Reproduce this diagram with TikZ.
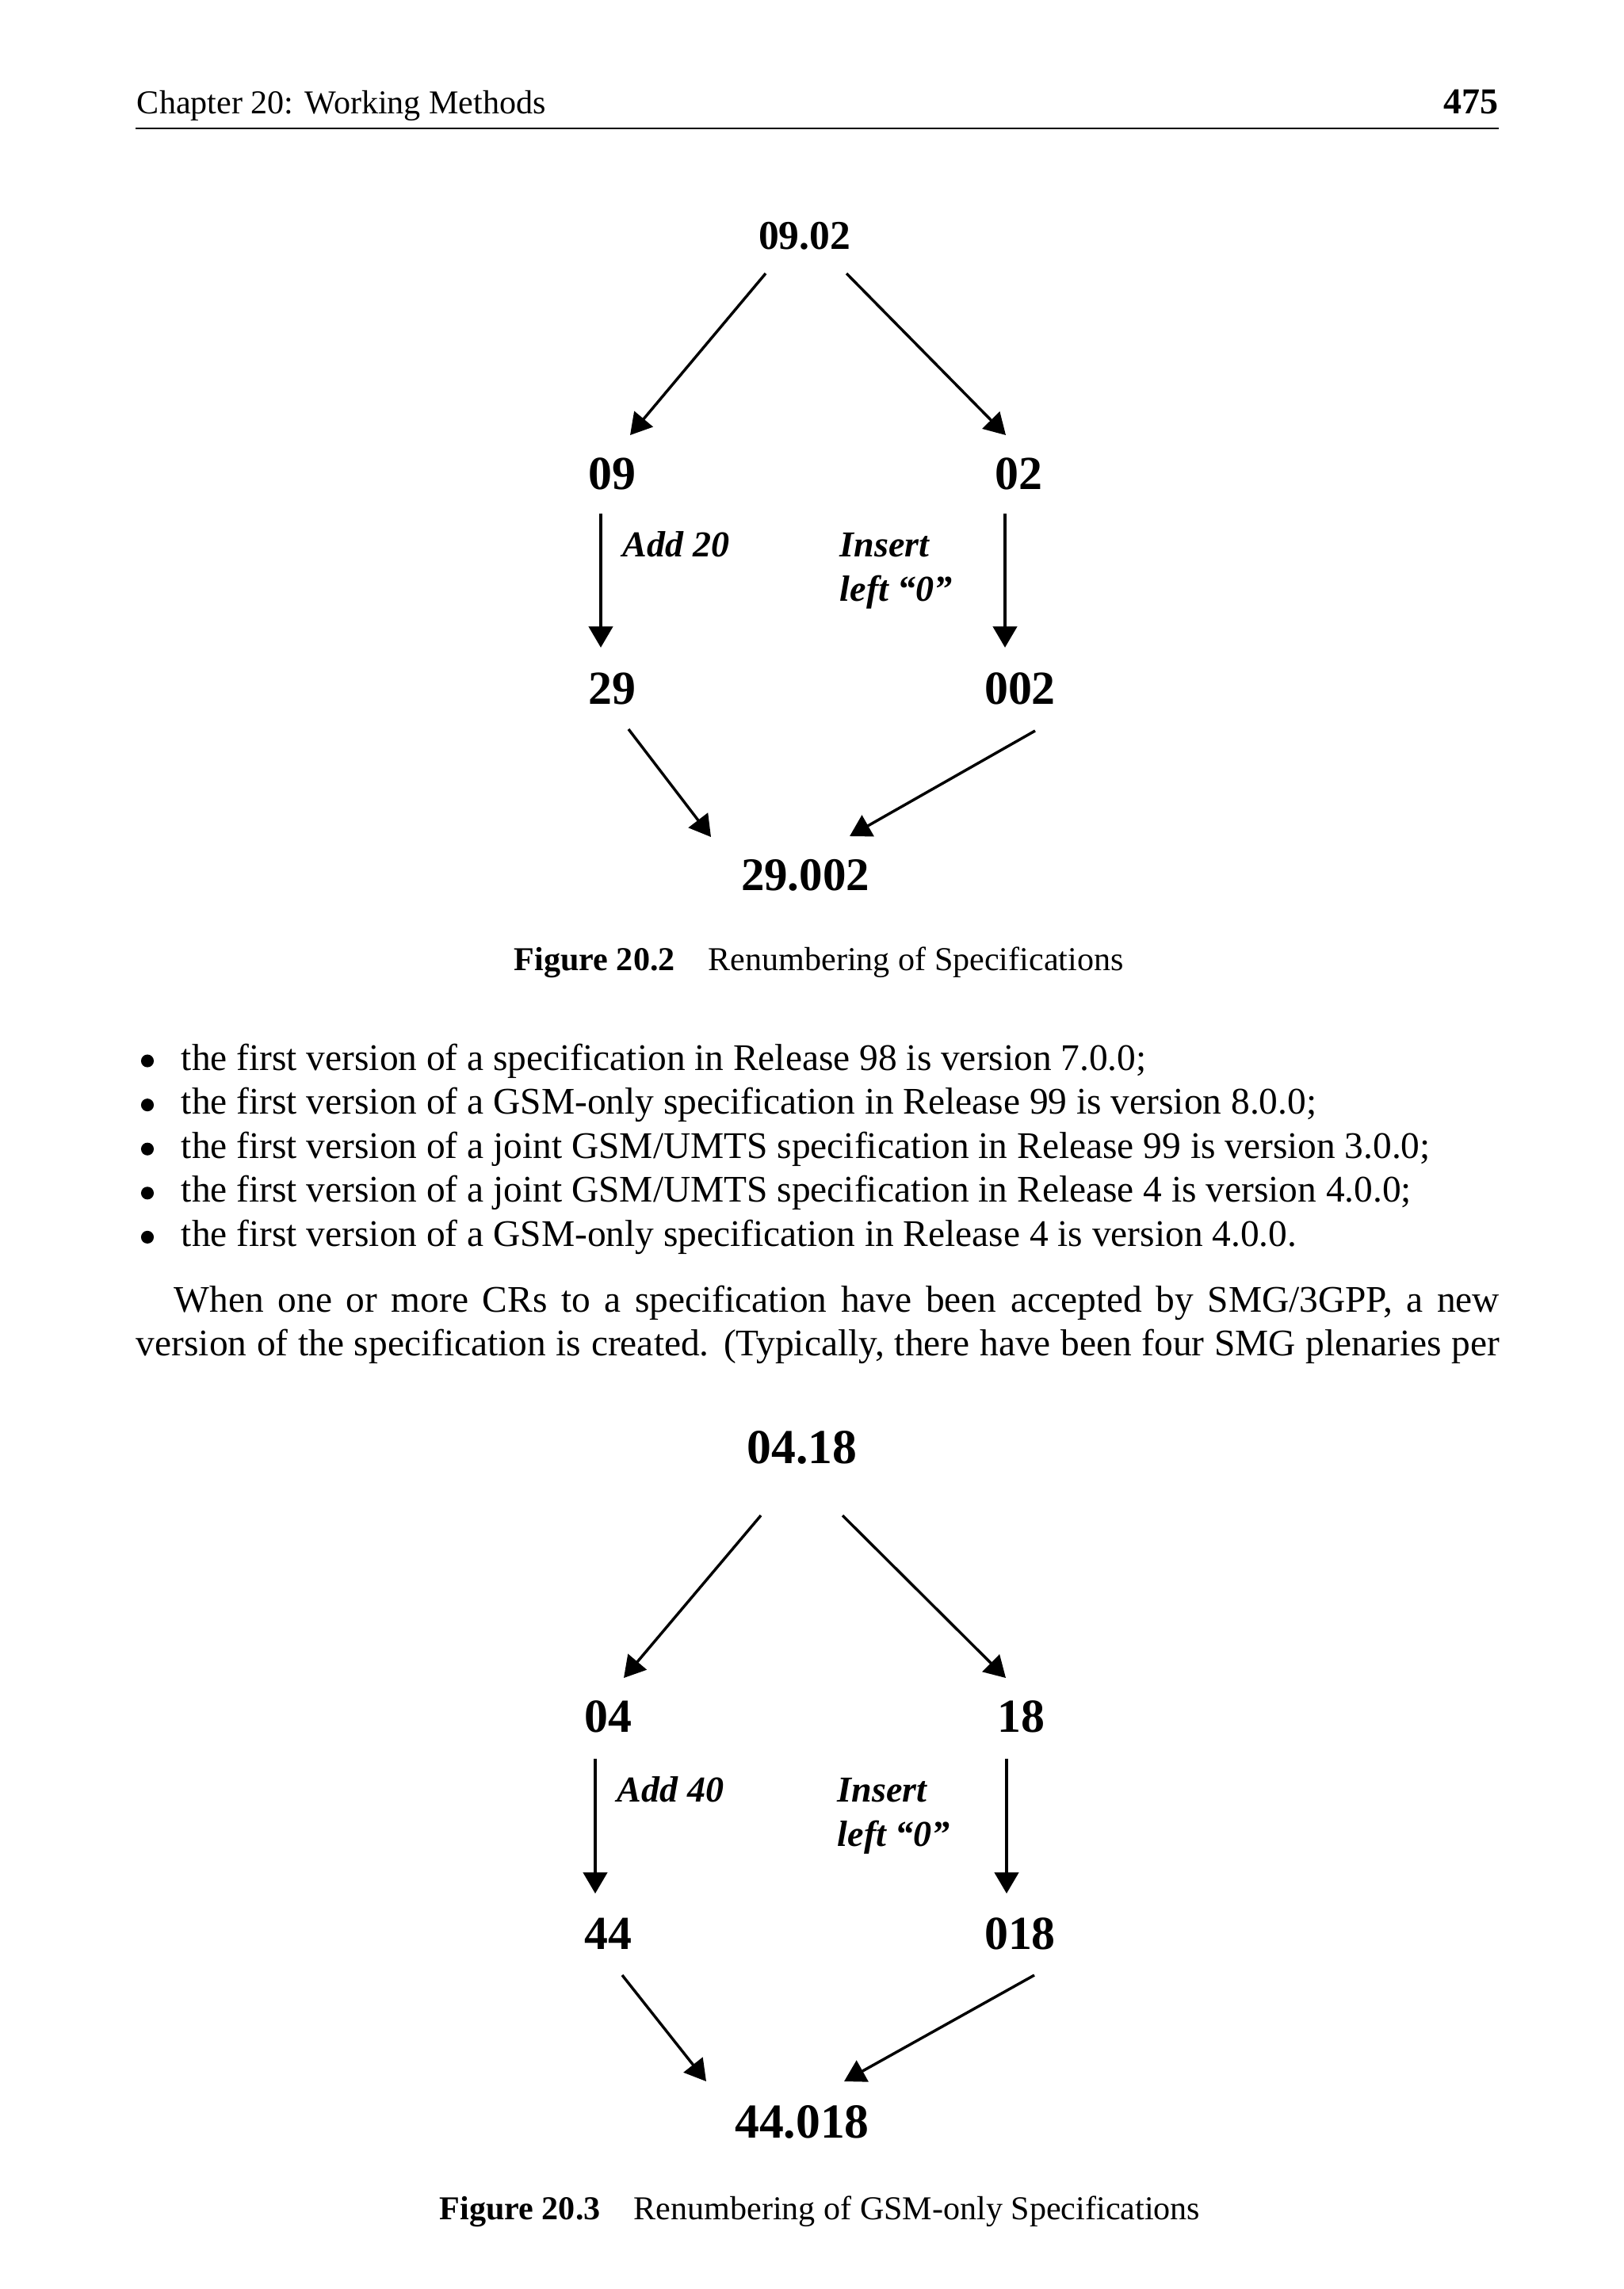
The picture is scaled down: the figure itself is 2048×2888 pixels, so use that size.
\documentclass[tikz,border=0pt]{standalone}
\usepackage{fontspec}
\setmainfont{Liberation Serif}
\usetikzlibrary{positioning, arrows.meta, calc}
\newlength\pxu
\setlength\pxu{0.2173pt}

\begin{document}
\begin{tikzpicture}[x=0.2173pt, y=-0.2173pt, num/.style={font=\fontsize{13}{15}\selectfont\bfseries, inner sep=0pt}, opl/.style={font=\fontsize{10}{12}\selectfont\bfseries\itshape, inner sep=0pt, anchor=base west}, txt/.style={font=\fontsize{10.3}{12}\selectfont, inner sep=0pt, anchor=base west}, dot/.style={circle, fill, inner sep=0pt, minimum size=3.5pt}, captxt/.style={font=\fontsize{9.15}{11}\selectfont, inner sep=0pt, anchor=base west}, arr/.style={-{Triangle[length=5.8pt, width=6.6pt]}, line width=0.75pt}]
\useasboundingbox (0,0) rectangle (2048,2888);
% running head
\node[captxt] (chap) at (172,143) {Chapter 20: Working Methods};
\node[txt, anchor=base east, font=\fontsize{10}{12}\selectfont\bfseries] (pgno) at (1891,143) {475};
\draw[line width=0.45pt] (171,162) -- (1891,162);
% Figure 20.2
\node[num, font=\fontsize{11.2}{13}\selectfont\bfseries] (top1) at (1015,297.5) {09.02};
\node[num] (n09) at (772.6,597.5) {09}; \node[num] (n02) at (1285,597.5) {02};
\node[num] (n29) at (772.6,869) {29}; \node[num] (n002) at (1287,869) {002};
\node[num, font=\fontsize{12.8}{15}\selectfont\bfseries] (res1) at (1016,1104) {29.002};
\node[opl] (add1) at (785,702) {Add 20};
\node[opl] (ins1) at (1059,702) {Insert}; \node[opl] (lft1) at (1059,758) {left “0”};
\draw[arr] ($(top1)+(-49,47.5)$) -- ($(n09)+(22.4,-48.5)$);
\draw[arr] ($(top1)+(53,47.5)$) -- ($(n02)+(-16,-48.5)$);
\draw[arr] ($(n09)+(-14.6,50.5)$) -- ($(n29)+(-14.6,-52)$);
\draw[arr] ($(n02)+(-17,50.5)$) -- ($(n002)+(-19,-52)$);
\draw[arr] ($(n29)+(20.4,51)$) -- ($(res1)+(-119,-48)$);
\draw[arr] ($(n002)+(19,53)$) -- ($(res1)+(56,-49)$);
\node[captxt] (cap1) at (648,1224) {\textbf{Figure 20.2}\quad Renumbering of Specifications};
% list and running text
\node[dot] (bl1) at (186,1338.5) {}; \node[txt] (it1) at (228,1350) {the first version of a specification in Release 98 is version 7.0.0;};
\node[dot] (bl2) at (186,1394.1) {}; \node[txt] (it2) at (228,1405.6) {the first version of a GSM-only specification in Release 99 is version 8.0.0;};
\node[dot] (bl3) at (186,1449.7) {}; \node[txt] (it3) at (228,1461.2) {the first version of a joint GSM/UMTS specification in Release 99 is version 3.0.0;};
\node[dot] (bl4) at (186,1505.3) {}; \node[txt] (it4) at (228,1516.8) {the first version of a joint GSM/UMTS specification in Release 4 is version 4.0.0;};
\node[dot] (bl5) at (186,1560.9) {}; \node[txt] (it5) at (228,1572.4) {the first version of a GSM-only specification in Release 4 is version 4.0.0.};
\node[txt] (par1) at (219,1655) {\makebox[1672\pxu][s]{When one or more CRs to a specification have been accepted by SMG/3GPP, a new}};
\node[txt] (par2) at (171,1710.6) {\makebox[1720\pxu][s]{version of the specification is created. (Typically, there have been four SMG plenaries per}};
% Figure 20.3
\node[num, font=\fontsize{13.4}{15}\selectfont\bfseries] (top2) at (1012,1826) {04.18};
\node[num] (n04) at (767,2166) {04}; \node[num] (n18) at (1288,2166) {18};
\node[num] (n44) at (767,2440) {44}; \node[num] (n018) at (1287,2440) {018};
\node[num, font=\fontsize{13.4}{15}\selectfont\bfseries] (res2) at (1012,2677.5) {44.018};
\node[opl] (add2) at (778,2273) {Add 40};
\node[opl] (ins2) at (1056,2273) {Insert}; \node[opl] (lft2) at (1056,2329) {left “0”};
\draw[arr] ($(top2)+(-52,86)$) -- ($(n04)+(20,-49)$);
\draw[arr] ($(top2)+(51,86)$) -- ($(n18)+(-19,-49)$);
\draw[arr] ($(n04)+(-16,53)$) -- ($(n44)+(-16,-51)$);
\draw[arr] ($(n18)+(-18,53)$) -- ($(n018)+(-17,-51)$);
\draw[arr] ($(n44)+(18,52)$) -- ($(res2)+(-121,-51.5)$);
\draw[arr] ($(n018)+(18,52)$) -- ($(res2)+(53,-51.5)$);
\node[captxt] (cap2) at (554,2800) {\textbf{Figure 20.3}\quad Renumbering of GSM-only Specifications};
\end{tikzpicture}
\end{document}
